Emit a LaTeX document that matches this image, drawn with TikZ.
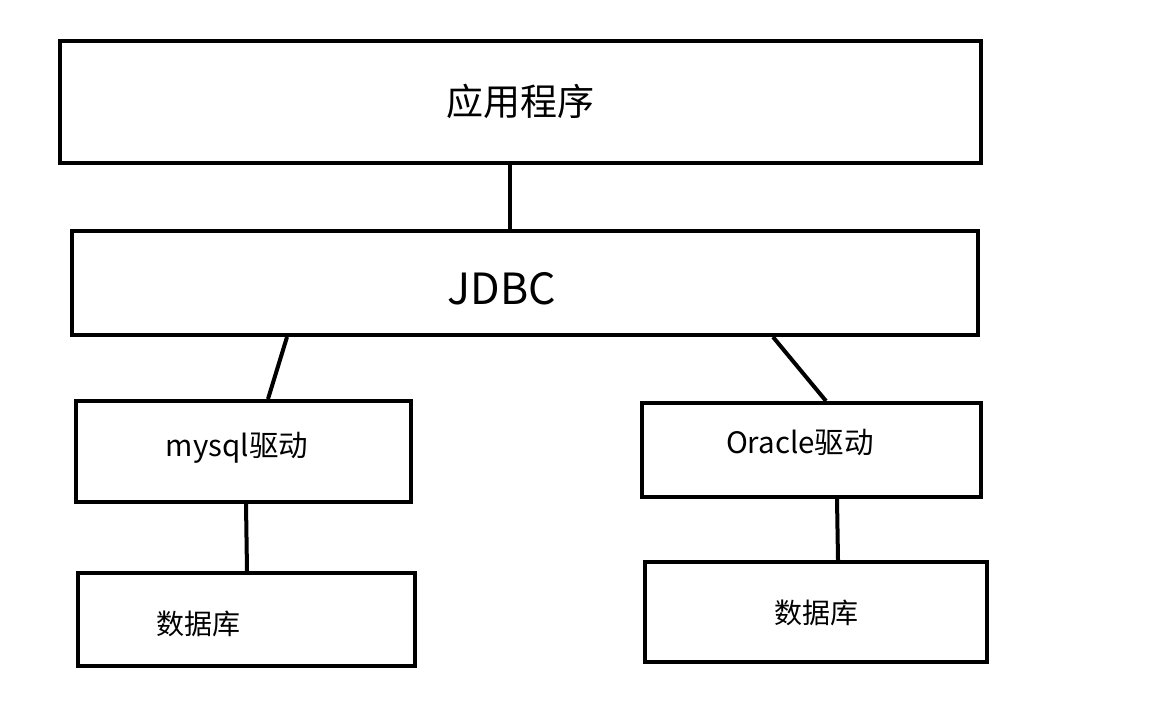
\documentclass[tikz,border=0pt]{standalone}
\usepackage{fontspec}
\newfontfamily\cjk{Noto Sans CJK SC}
\tikzset{
  box/.style={draw, line width=4pt, rectangle, inner sep=0pt},
  txt/.style={font=\cjk, inner sep=0pt},
  link/.style={line width=4pt}
}
\begin{document}
\begin{tikzpicture}[x=1pt, y=-1pt]
  \useasboundingbox (0,0) rectangle (1174,720);
  \node[box, minimum width=921pt, minimum height=122pt] (app) at (520.5,102) {};
  \node[box, minimum width=906pt, minimum height=104pt] (jdbc) at (525,283) {};
  \node[box, minimum width=335pt, minimum height=101pt] (mysql) at (243.5,451.5) {};
  \node[box, minimum width=339pt, minimum height=94pt] (oracle) at (811.5,450) {};
  \node[box, minimum width=337pt, minimum height=93pt] (dbl) at (246.5,619.5) {};
  \node[box, minimum width=342pt, minimum height=100pt] (dbr) at (816,612) {};
  \node[txt, font=\cjk\fontsize{37}{40}\selectfont] (apptxt) at (520,101) {应用程序};
  \node[txt, font=\cjk\fontsize{43}{46}\selectfont] (jdbctxt) at (502,289) {JDBC};
  \node[txt, font=\cjk\fontsize{29.5}{32}\selectfont] (mysqltxt) at (237,448) {mysql驱动};
  \node[txt, font=\cjk\fontsize{29.5}{32}\selectfont] (oracletxt) at (800,443) {Oracle驱动};
  \node[txt, font=\cjk\fontsize{28}{32}\selectfont] (dbltxt) at (198,624) {数据库};
  \node[txt, font=\cjk\fontsize{28}{32}\selectfont] (dbrtxt) at (816,613) {数据库};
  \draw[link] ([xshift=-10.5pt]app.south) -- ([xshift=-15pt]jdbc.north);
  \draw[link] ([xshift=-238pt]jdbc.south) -- ([xshift=24.5pt]mysql.north);
  \draw[link] ([xshift=248pt]jdbc.south) -- ([xshift=14.5pt]oracle.north);
  \draw[link] ([xshift=2.5pt]mysql.south) -- ([xshift=0.5pt]dbl.north);
  \draw[link] ([xshift=25.5pt]oracle.south) -- ([xshift=22pt]dbr.north);
\end{tikzpicture}
\end{document}
